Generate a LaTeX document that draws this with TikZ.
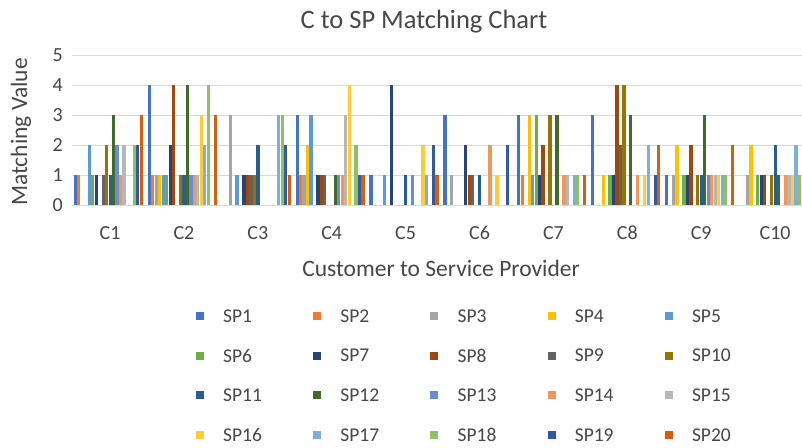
\documentclass[tikz,border=0pt]{standalone}
\usepackage{fontspec}
\setmainfont{Carlito}
\definecolor{txt}{HTML}{474747}
\definecolor{grid}{HTML}{D9D9D9}
\definecolor{sp1}{HTML}{4472C4}
\definecolor{sp2}{HTML}{ED7D31}
\definecolor{sp3}{HTML}{A5A5A5}
\definecolor{sp4}{HTML}{FFC000}
\definecolor{sp5}{HTML}{5B9BD5}
\definecolor{sp6}{HTML}{70AD47}
\definecolor{sp7}{HTML}{264478}
\definecolor{sp8}{HTML}{9E480E}
\definecolor{sp9}{HTML}{636363}
\definecolor{sp10}{HTML}{997300}
\definecolor{sp11}{HTML}{255E91}
\definecolor{sp12}{HTML}{43682B}
\definecolor{sp13}{HTML}{698ED0}
\definecolor{sp14}{HTML}{F1975A}
\definecolor{sp15}{HTML}{B7B7B7}
\definecolor{sp16}{HTML}{FFCD33}
\definecolor{sp17}{HTML}{7CAFDD}
\definecolor{sp18}{HTML}{8CC168}
\definecolor{sp19}{HTML}{335AA1}
\definecolor{sp20}{HTML}{D26012}
\begin{document}
\begin{tikzpicture}[x=1pt,y=-1pt,
  lbl/.style={text=txt,inner sep=0pt,font=\fontsize{20}{22}\selectfont},
  leglbl/.style={text=txt,inner sep=0pt,font=\fontsize{19.5}{22}\selectfont},
  axtitle/.style={text=txt,inner sep=0pt,font=\fontsize{23.5}{26}\selectfont},
  gridline/.style={draw=grid,line width=0.9pt},
  legmark/.style={inner sep=0pt,minimum size=8pt}]
\useasboundingbox (0,0) rectangle (802,447);
\fill[white] (0,0) rectangle (802,447);
% title
\node[text=txt,inner sep=0pt,font=\fontsize{26.5}{30}\selectfont] (title) at (424,22) {C to SP Matching Chart};
% grid
\foreach \v in {0,...,5} {
  \draw[gridline] (72,205-30*\v) -- (802,205-30*\v);
  \node[lbl,anchor=east] (tick\v) at (63,205-30*\v) {\v};
}
\node[axtitle,rotate=90] (ytitle) at (21,132) {Matching Value};
% bars
\begin{scope}
\clip (0,0) rectangle (802,447);
\foreach \vals [count=\c] in {
 {1,1,0,0,2,1,1,0,1,2,1,3,2,1,2,0,0,2,2,3},
 {4,1,1,1,1,1,2,4,0,1,1,4,1,1,1,3,2,4,0,3},
 {0,0,3,0,1,0,1,1,1,1,2,0,0,0,0,0,3,3,2,1},
 {3,1,1,2,3,0,1,1,1,0,0,1,1,1,3,4,0,2,1,1},
 {1,0,0,0,1,0,4,0,0,0,1,0,1,0,0,2,1,0,2,1},
 {3,0,1,0,0,0,2,1,1,0,1,0,0,2,0,1,0,0,2,0},
 {3,1,0,3,1,3,1,2,0,3,0,3,0,1,1,0,1,1,0,1},
 {3,0,0,1,0,1,1,4,2,4,0,3,0,1,0,1,2,0,1,2},
 {1,0,1,2,0,1,1,2,0,1,1,3,1,1,1,1,1,1,0,2},
 {0,0,1,2,0,1,1,1,0,1,2,1,0,1,1,1,2,1,0,0}} {
  \foreach \v [count=\i] in \vals {
    \ifnum\v>0
      \pgfmathsetmacro\xl{108.5+73.9*(\c-1)+3.47*(\i-11)}
      \fill[sp\i] (\xl,205) rectangle (\xl+3.2,205-30*\v);
    \fi
  }
}
\end{scope}
% category labels
\foreach \c in {1,...,10} {
  \node[lbl] (cat\c) at (110+73.9*\c-73.9,233) {C\c};
}
\node[axtitle] (xtitle) at (441,268) {Customer to Service Provider};
% legend
\foreach \r in {0,...,3} {
  \foreach \k in {1,...,5} {
    \pgfmathtruncatemacro\n{5*\r+\k}
    \node[legmark,fill=sp\n] (m\n) at (200+117.2*\k-117.2,316+39.6*\r) {};
    \node[leglbl,anchor=west] (l\n) at (223+117.2*\k-117.2,316+39.6*\r) {SP\n};
  }
}
\end{tikzpicture}
\end{document}
